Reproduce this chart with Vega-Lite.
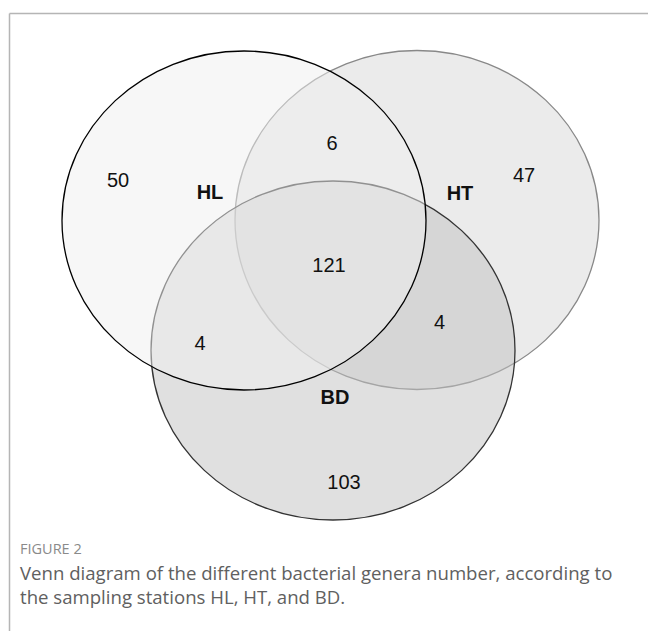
{
  "$schema": "https://vega.github.io/schema/vega-lite/v6.json",
  "width": 639,
  "height": 618,
  "autosize": "none",
  "padding": {"left": 9, "top": 13, "right": 0, "bottom": 0},
  "background": "white",
  "config": {
    "view": {"stroke": null},
    "axis": {"ticks": false, "labels": false, "grid": false, "title": null, "domain": true, "domainColor": "#b5b5b5", "domainWidth": 1.5}
  },
  "datasets": {
    "sets": [
      {"set": "HT", "cx": 417, "cy": 220},
      {"set": "BD", "cx": 333, "cy": 350.5},
      {"set": "HL", "cx": 244, "cy": 220.5}
    ],
    "counts": [
      {"label": "50", "x": 118, "y": 187},
      {"label": "6", "x": 332, "y": 150},
      {"label": "47", "x": 524, "y": 182},
      {"label": "121", "x": 329, "y": 272},
      {"label": "4", "x": 200, "y": 350},
      {"label": "4", "x": 439.5, "y": 329},
      {"label": "103", "x": 344, "y": 489}
    ],
    "names": [
      {"label": "HL", "x": 210, "y": 199},
      {"label": "HT", "x": 460, "y": 200},
      {"label": "BD", "x": 335, "y": 404}
    ],
    "fig": [{"label": "FIGURE 2", "x": 20, "y": 554}],
    "caption": [
      {"label": "Venn diagram of the different bacterial genera number, according to", "x": 20, "y": 580},
      {"label": "the sampling stations HL, HT, and BD.", "x": 20, "y": 604}
    ]
  },
  "layer": [
    {
      "data": {"name": "sets"},
      "mark": {
        "type": "point",
        "shape": "M -1 0 C -1 -0.5144 -0.5523 -0.9313 0 -0.9313 C 0.5523 -0.9313 1 -0.5144 1 0 C 1 0.5144 0.5523 0.9313 0 0.9313 C -0.5523 0.9313 -1 0.5144 -1 0 Z",
        "size": 132496,
        "filled": true,
        "opacity": 1,
        "fillOpacity": 0.5,
        "strokeOpacity": 1,
        "strokeWidth": 1.3
      },
      "encoding": {
        "x": {"field": "cx", "type": "quantitative", "scale": {"domain": [9, 648], "nice": false, "zero": false}, "axis": {"orient": "top"}},
        "y": {"field": "cy", "type": "quantitative", "scale": {"domain": [13, 631], "nice": false, "zero": false, "reverse": true}, "axis": {"orient": "left"}},
        "fill": {"field": "set", "type": "nominal", "scale": {"domain": ["HT", "BD", "HL"], "range": ["#d8d8d8", "#c2c2c2", "#efefef"]}, "legend": null},
        "stroke": {"field": "set", "type": "nominal", "scale": {"domain": ["HT", "BD", "HL"], "range": ["#888888", "#333333", "#000000"]}, "legend": null}
      }
    },
    {
      "data": {"name": "counts"},
      "mark": {"type": "text", "font": "Liberation Sans", "fontSize": 20, "align": "center", "baseline": "alphabetic", "color": "#111111"},
      "encoding": {
        "x": {"field": "x", "type": "quantitative", "axis": {"orient": "top"}},
        "y": {"field": "y", "type": "quantitative", "axis": {"orient": "left"}},
        "text": {"field": "label"}
      }
    },
    {
      "data": {"name": "names"},
      "mark": {"type": "text", "font": "Liberation Sans", "fontSize": 20, "fontWeight": "bold", "align": "center", "baseline": "alphabetic", "color": "#111111"},
      "encoding": {
        "x": {"field": "x", "type": "quantitative", "axis": {"orient": "top"}},
        "y": {"field": "y", "type": "quantitative", "axis": {"orient": "left"}},
        "text": {"field": "label"}
      }
    },
    {
      "data": {"name": "fig"},
      "mark": {"type": "text", "font": "Open Sans", "fontSize": 14.5, "align": "left", "baseline": "alphabetic", "color": "#8a8a8a"},
      "encoding": {
        "x": {"field": "x", "type": "quantitative", "axis": {"orient": "top"}},
        "y": {"field": "y", "type": "quantitative", "axis": {"orient": "left"}},
        "text": {"field": "label"}
      }
    },
    {
      "data": {"name": "caption"},
      "mark": {"type": "text", "font": "Open Sans", "fontSize": 18.6, "align": "left", "baseline": "alphabetic", "color": "#606060"},
      "encoding": {
        "x": {"field": "x", "type": "quantitative", "axis": {"orient": "top"}},
        "y": {"field": "y", "type": "quantitative", "axis": {"orient": "left"}},
        "text": {"field": "label"}
      }
    }
  ]
}
